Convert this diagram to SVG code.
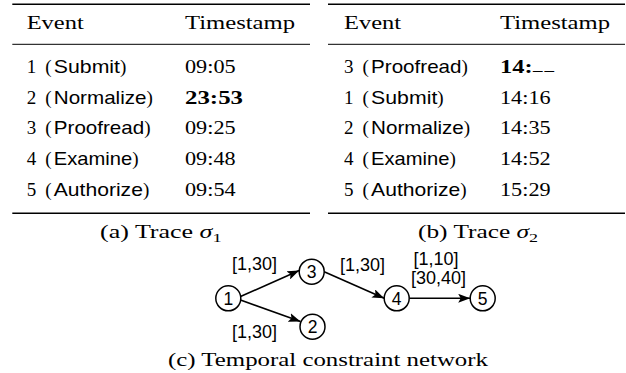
<svg xmlns="http://www.w3.org/2000/svg" width="626" height="373" viewBox="0 0 626 373">
<style>
.rm{font-family:"Liberation Serif","Times New Roman",serif;font-size:19px;fill:#000}
.sf{font-family:"Liberation Sans",Arial,sans-serif;font-size:18.5px}
.bf{font-weight:bold}
.rule{stroke:#000;fill:none}
.lbl{font-family:"Liberation Sans",Arial,sans-serif;font-size:18px;fill:#000}
.node circle{fill:#fff;stroke:#000;stroke-width:1.5}
.node text{font-family:"Liberation Sans",Arial,sans-serif;font-size:17.5px;text-anchor:middle;fill:#000}
.edge{stroke:#000;stroke-width:1.6;fill:none;marker-end:url(#arr)}
</style>
<defs>
<marker id="arr" markerUnits="userSpaceOnUse" markerWidth="13" markerHeight="9" refX="12" refY="4.5" orient="auto" viewBox="0 0 13 9">
<path d="M0,0 L12,4.5 L0,9 L2.5,4.5 z" fill="#000"/>
</marker>
</defs>

<g id="table-a">
<line class="rule" x1="12.3" y1="4.3" x2="310" y2="4.3" stroke-width="1.5"/>
<line class="rule" x1="12.3" y1="44.3" x2="310" y2="44.3" stroke-width="1"/>
<line class="rule" x1="12.3" y1="213.3" x2="310" y2="213.3" stroke-width="1.5"/>
<text class="rm" x="26.7" y="29.3" textLength="57" lengthAdjust="spacingAndGlyphs">Event</text>
<text class="rm" x="185" y="29.3" textLength="110" lengthAdjust="spacingAndGlyphs">Timestamp</text>

<text class="rm" y="72.7"><tspan x="26.7">1 </tspan><tspan x="45.2">(</tspan><tspan class="sf" x="53.8" textLength="66.2" lengthAdjust="spacingAndGlyphs">Submit</tspan><tspan x="120">)</tspan></text>
<text class="rm" x="185" y="72.7" textLength="50.6" lengthAdjust="spacingAndGlyphs">09:05</text>

<text class="rm" y="103.5"><tspan x="26.7">2 </tspan><tspan x="45.2">(</tspan><tspan class="sf" x="53.8" textLength="92.7" lengthAdjust="spacingAndGlyphs">Normalize</tspan><tspan x="146.5">)</tspan></text>
<text class="rm bf" x="185" y="103.5" textLength="58" lengthAdjust="spacingAndGlyphs">23:53</text>

<text class="rm" y="134.3"><tspan x="26.7">3 </tspan><tspan x="45.2">(</tspan><tspan class="sf" x="53.8" textLength="90.4" lengthAdjust="spacingAndGlyphs">Proofread</tspan><tspan x="144.2">)</tspan></text>
<text class="rm" x="185" y="134.3" textLength="50.6" lengthAdjust="spacingAndGlyphs">09:25</text>

<text class="rm" y="165.1"><tspan x="26.7">4 </tspan><tspan x="45.2">(</tspan><tspan class="sf" x="53.8" textLength="78.4" lengthAdjust="spacingAndGlyphs">Examine</tspan><tspan x="132.2">)</tspan></text>
<text class="rm" x="185" y="165.1" textLength="50.6" lengthAdjust="spacingAndGlyphs">09:48</text>

<text class="rm" y="195.9"><tspan x="26.7">5 </tspan><tspan x="45.2">(</tspan><tspan class="sf" x="53.8" textLength="89.1" lengthAdjust="spacingAndGlyphs">Authorize</tspan><tspan x="142.9">)</tspan></text>
<text class="rm" x="185" y="195.9" textLength="50.6" lengthAdjust="spacingAndGlyphs">09:54</text>

<text class="rm" x="100" y="238" textLength="121.7" lengthAdjust="spacingAndGlyphs">(a) Trace <tspan font-style="italic">σ</tspan><tspan font-size="13.5" dy="3.5">1</tspan></text>
</g>

<g id="table-b">
<line class="rule" x1="328" y1="4.3" x2="625" y2="4.3" stroke-width="1.5"/>
<line class="rule" x1="328" y1="44.3" x2="625" y2="44.3" stroke-width="1"/>
<line class="rule" x1="328" y1="213.3" x2="625" y2="213.3" stroke-width="1.5"/>
<text class="rm" x="344" y="29.3" textLength="57" lengthAdjust="spacingAndGlyphs">Event</text>
<text class="rm" x="500" y="29.3" textLength="110" lengthAdjust="spacingAndGlyphs">Timestamp</text>

<text class="rm" y="72.7"><tspan x="344">3 </tspan><tspan x="362.5">(</tspan><tspan class="sf" x="371.1" textLength="90.4" lengthAdjust="spacingAndGlyphs">Proofread</tspan><tspan x="461.5">)</tspan></text>
<text class="rm bf" y="72.7"><tspan x="500" textLength="32.6" lengthAdjust="spacingAndGlyphs">14:</tspan><tspan x="533" dy="-3" font-weight="normal" letter-spacing="2">__</tspan></text>

<text class="rm" y="103.5"><tspan x="344">1 </tspan><tspan x="362.5">(</tspan><tspan class="sf" x="371.1" textLength="66.2" lengthAdjust="spacingAndGlyphs">Submit</tspan><tspan x="437.3">)</tspan></text>
<text class="rm" x="500" y="103.5" textLength="50.6" lengthAdjust="spacingAndGlyphs">14:16</text>

<text class="rm" y="134.3"><tspan x="344">2 </tspan><tspan x="362.5">(</tspan><tspan class="sf" x="371.1" textLength="92.7" lengthAdjust="spacingAndGlyphs">Normalize</tspan><tspan x="463.8">)</tspan></text>
<text class="rm" x="500" y="134.3" textLength="50.6" lengthAdjust="spacingAndGlyphs">14:35</text>

<text class="rm" y="165.1"><tspan x="344">4 </tspan><tspan x="362.5">(</tspan><tspan class="sf" x="371.1" textLength="78.4" lengthAdjust="spacingAndGlyphs">Examine</tspan><tspan x="449.5">)</tspan></text>
<text class="rm" x="500" y="165.1" textLength="50.6" lengthAdjust="spacingAndGlyphs">14:52</text>

<text class="rm" y="195.9"><tspan x="344">5 </tspan><tspan x="362.5">(</tspan><tspan class="sf" x="371.1" textLength="89.1" lengthAdjust="spacingAndGlyphs">Authorize</tspan><tspan x="460.2">)</tspan></text>
<text class="rm" x="500" y="195.9" textLength="50.6" lengthAdjust="spacingAndGlyphs">15:29</text>

<text class="rm" x="418" y="238" textLength="120" lengthAdjust="spacingAndGlyphs">(b) Trace <tspan font-style="italic">σ</tspan><tspan font-size="13.5" dy="3.5">2</tspan></text>
</g>

<g id="connectors">
<path class="edge" d="M240.5,296.5 L299.2,270.5"/>
<path class="edge" d="M240.5,300 L300.5,321.5"/>
<path class="edge" d="M324.2,271.7 L384.2,298.3"/>
<path class="edge" d="M409.2,298.3 L470.2,298.3"/>
<text class="lbl" x="232" y="269.5">[1,30]</text>
<text class="lbl" x="232" y="338">[1,30]</text>
<text class="lbl" x="340" y="270.5">[1,30]</text>
<text class="lbl" x="413.5" y="264.5">[1,10]</text>
<text class="lbl" x="411" y="284" font-size="16">[30,40]</text>
</g>

<g id="node-1" class="node"><circle cx="228.3" cy="298.3" r="12.5"/><text x="228.3" y="304.6">1</text></g>
<g id="node-2" class="node"><circle cx="312.5" cy="326.7" r="12.5"/><text x="312.5" y="333">2</text></g>
<g id="node-3" class="node"><circle cx="311.7" cy="271.7" r="12.5"/><text x="311.7" y="278">3</text></g>
<g id="node-4" class="node"><circle cx="396.7" cy="298.3" r="12.5"/><text x="396.7" y="304.6">4</text></g>
<g id="node-5" class="node"><circle cx="482.7" cy="298.3" r="12.5"/><text x="482.7" y="304.6">5</text></g>

<text class="rm" x="168" y="366" textLength="320" lengthAdjust="spacingAndGlyphs">(c) Temporal constraint network</text>
</svg>
